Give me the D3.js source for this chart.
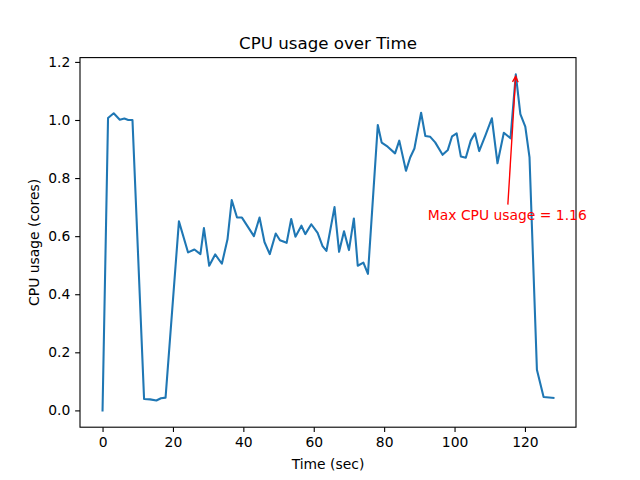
<!DOCTYPE html>
<html>
<head>
<meta charset="utf-8">
<script src="https://cdn.jsdelivr.net/npm/d3@7"></script>
<style>
  html, body { margin: 0; padding: 0; background: #fff; }
  svg { display: block; font-family: "DejaVu Sans", sans-serif; }
</style>
</head>
<body>
<svg id="chart" width="640" height="480"></svg>
<script>
const timeSec = [0, 1.56, 3.17, 4.9, 6.2, 7.3, 8.5, 11.8, 13.5, 15.3, 16.6, 17.9, 21.7, 24.3, 26.1, 27.8, 28.8, 30.3, 32.0, 33.9, 35.5, 36.7, 38.2, 39.6, 43.0, 44.6, 46.0, 47.5, 49.2, 50.4, 52.3, 53.6, 54.8, 56.5, 57.6, 59.3, 61.1, 62.5, 63.6, 65.9, 67.2, 68.6, 70.0, 71.4, 72.5, 74.1, 75.4, 78.2, 79.3, 81.0, 83.1, 84.3, 86.2, 87.4, 88.6, 90.5, 91.7, 93.1, 94.5, 96.6, 98.1, 99.3, 100.6, 101.8, 103.2, 104.6, 105.8, 107.0, 108.8, 110.6, 112.2, 114.0, 115.9, 117.4, 118.7, 120.1, 121.3, 123.4, 125.3, 128.1];
const cpuCores = [0, 1.007, 1.023, 1.001, 1.005, 1.0, 1.0, 0.039, 0.038, 0.034, 0.042, 0.044, 0.651, 0.544, 0.554, 0.538, 0.628, 0.498, 0.537, 0.505, 0.589, 0.724, 0.664, 0.664, 0.600, 0.664, 0.580, 0.538, 0.609, 0.586, 0.577, 0.659, 0.598, 0.636, 0.607, 0.641, 0.611, 0.566, 0.549, 0.700, 0.546, 0.617, 0.552, 0.661, 0.498, 0.509, 0.470, 0.983, 0.922, 0.908, 0.885, 0.929, 0.825, 0.871, 0.902, 1.025, 0.945, 0.942, 0.923, 0.880, 0.897, 0.944, 0.954, 0.874, 0.870, 0.929, 0.954, 0.893, 0.948, 1.006, 0.851, 0.956, 0.937, 1.157, 1.020, 0.977, 0.871, 0.140, 0.046, 0.043];
const xTickValues = [0, 20, 40, 60, 80, 100, 120];
const yTickValues = [0.0, 0.2, 0.4, 0.6, 0.8, 1.0, 1.2];
const titleText = "CPU usage over Time";
const xLabelText = "Time (sec)";
const yLabelText = "CPU usage (cores)";
const annotOffsetT = 25;   // text placed 25 s before the max
const annotOffsetV = 0.5;  // and 0.5 cores below it

const svg = d3.select("#chart");
const L = 80, R = 576, T = 57.6, B = 427.2;
const FS = 13.89, TFS = 16.67, TICK = 4.86;

const data = timeSec.map((t, i) => ({ t, v: cpuCores[i] }));
const tExt = d3.extent(timeSec), vExt = d3.extent(cpuCores);
const tPad = (tExt[1] - tExt[0]) * 0.05, vPad = (vExt[1] - vExt[0]) * 0.05;
const x = d3.scaleLinear().domain([tExt[0] - tPad, tExt[1] + tPad]).range([L, R]);
const y = d3.scaleLinear().domain([vExt[0] - vPad, vExt[1] + vPad]).range([B, T]);

// line
svg.append("path")
  .datum(data)
  .attr("fill", "none")
  .attr("stroke", "#1f77b4")
  .attr("stroke-width", 2.08)
  .attr("stroke-linejoin", "round")
  .attr("stroke-linecap", "square")
  .attr("d", d3.line().x(d => x(d.t)).y(d => y(d.v)));

// axes
const xAxis = svg.append("g").attr("transform", `translate(0,${B})`)
  .call(d3.axisBottom(x).tickValues(xTickValues).tickFormat(d3.format("d")).tickSize(TICK).tickPadding(4.86));
const yAxis = svg.append("g").attr("transform", `translate(${L},0)`)
  .call(d3.axisLeft(y).tickValues(yTickValues).tickFormat(d3.format(".1f")).tickSize(TICK).tickPadding(4.86));
[xAxis, yAxis].forEach(g => {
  g.select(".domain").remove();
  g.selectAll(".tick line").attr("stroke", "#000").attr("stroke-width", 1.1);
  g.selectAll(".tick text").attr("fill", "#000").attr("font-size", FS + "px")
    .attr("font-family", "DejaVu Sans, sans-serif");
});
xAxis.selectAll(".tick text").attr("dy", "0.76em");

// frame
svg.append("rect").attr("x", L).attr("y", T).attr("width", R - L).attr("height", B - T)
  .attr("fill", "none").attr("stroke", "#000").attr("stroke-width", 1.1);

// title & labels
svg.append("text").attr("x", (L + R) / 2).attr("y", T - 8.33).attr("text-anchor", "middle")
  .attr("font-size", TFS + "px").attr("fill", "#000").text(titleText);
svg.append("text").attr("x", (L + R) / 2).attr("y", 469).attr("text-anchor", "middle")
  .attr("font-size", FS + "px").attr("fill", "#000").text(xLabelText);
svg.append("text").attr("transform", `translate(39,${(T + B) / 2}) rotate(-90)`).attr("text-anchor", "middle")
  .attr("font-size", FS + "px").attr("fill", "#000").text(yLabelText);

// annotation
const iMax = d3.maxIndex(cpuCores);
const maxT = timeSec[iMax], maxV = cpuCores[iMax];
const label = svg.append("text")
  .attr("x", x(maxT - annotOffsetT)).attr("y", y(maxV - annotOffsetV))
  .attr("font-size", FS + "px").attr("fill", "red")
  .text("Max CPU usage = " + maxV.toFixed(2));
const bb = label.node().getBBox();
const cx = bb.x + bb.width / 2, cy = bb.y + bb.height / 2;
const tx = x(maxT), ty = y(maxV);
const frac = (cy - bb.y) / (cy - ty);
const sx = cx + (tx - cx) * frac, sy = bb.y;
const dx = tx - sx, dy = ty - sy, len = Math.hypot(dx, dy);
const ux = dx / len, uy = dy / len;
const ex = tx - ux * 2, ey = ty - uy * 2;
const startX = sx + ux * 2, startY = sy + uy * 2;
const hl = 5.6, hw = 2.8;
const arrow = svg.append("g").attr("stroke", "red").attr("stroke-width", 1.39).attr("fill", "none");
arrow.append("line").attr("x1", startX).attr("y1", startY).attr("x2", ex).attr("y2", ey);
arrow.append("path").attr("d",
  `M${ex - ux * hl - uy * hw},${ey - uy * hl + ux * hw} L${ex},${ey} L${ex - ux * hl + uy * hw},${ey - uy * hl - ux * hw}`);
label.raise();
</script>
</body>
</html>
